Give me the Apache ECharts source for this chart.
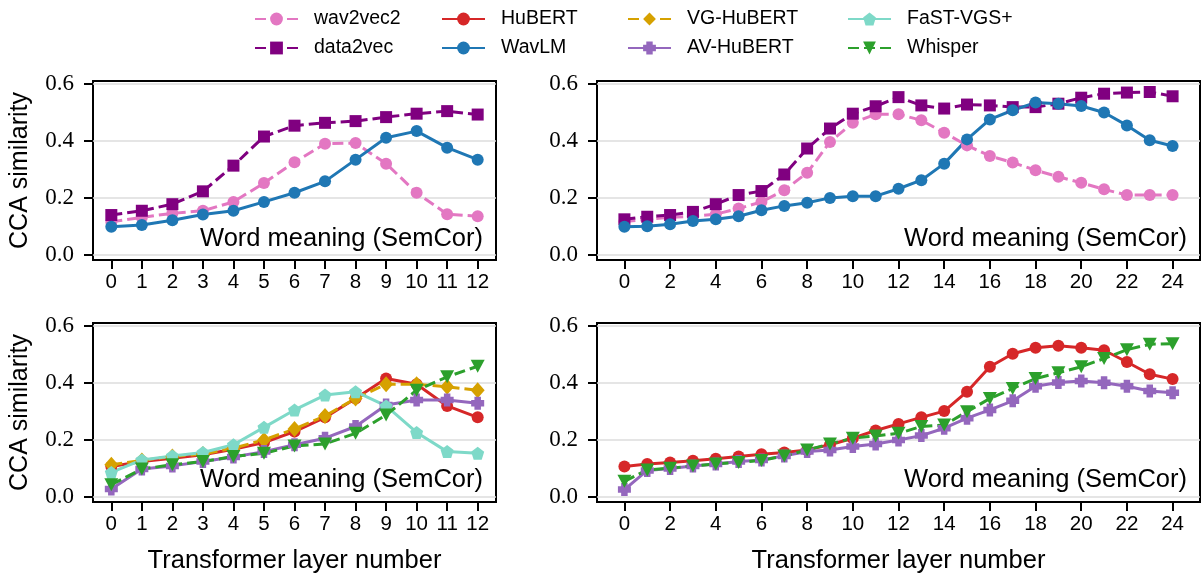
<!DOCTYPE html>
<html>
<head>
<meta charset="utf-8">
<script src="https://cdn.jsdelivr.net/npm/echarts@6/dist/echarts.min.js"></script>
<style>html,body{margin:0;padding:0;background:#fff}#chart{width:1202px;height:579px}</style>
</head>
<body>
<div id="chart"></div>
<script>
// ---------- data ----------
const layers12 = [0,1,2,3,4,5,6,7,8,9,10,11,12];
const layers24 = [0,1,2,3,4,5,6,7,8,9,10,11,12,13,14,15,16,17,18,19,20,21,22,23,24];
const xTicks12 = [0,1,2,3,4,5,6,7,8,9,10,11,12];
const xTicks24 = [0,2,4,6,8,10,12,14,16,18,20,22,24];
const yTicks = [0, 0.2, 0.4, 0.6];
const panelLabel = 'Word meaning (SemCor)';
const xTitle = 'Transformer layer number';
const yTitle = 'CCA similarity';

// top-left (base, 12 layers)
const tl_wav2vec2 = [0.116,0.132,0.146,0.155,0.186,0.252,0.325,0.390,0.392,0.320,0.218,0.143,0.136];
const tl_data2vec = [0.140,0.155,0.178,0.223,0.313,0.415,0.453,0.463,0.469,0.483,0.495,0.504,0.492];
const tl_wavlm    = [0.099,0.105,0.122,0.142,0.155,0.186,0.218,0.258,0.334,0.411,0.434,0.376,0.334];
// top-right (large, 24 layers)
const tr_wav2vec2 = [0.117,0.125,0.132,0.136,0.143,0.163,0.186,0.227,0.288,0.396,0.463,0.493,0.493,0.472,0.428,0.384,0.347,0.324,0.297,0.274,0.253,0.230,0.210,0.210,0.210];
const tr_data2vec = [0.125,0.134,0.140,0.151,0.178,0.210,0.224,0.282,0.373,0.443,0.495,0.521,0.553,0.524,0.513,0.527,0.524,0.518,0.518,0.530,0.551,0.565,0.569,0.571,0.556];
const tr_wavlm    = [0.099,0.101,0.108,0.119,0.125,0.136,0.157,0.172,0.183,0.200,0.206,0.206,0.232,0.262,0.320,0.405,0.475,0.507,0.534,0.530,0.522,0.499,0.454,0.402,0.382];
// bottom-left (base, 12 layers)
const bl_hubert   = [0.107,0.124,0.136,0.148,0.167,0.191,0.229,0.279,0.345,0.415,0.395,0.319,0.279];
const bl_vghubert = [0.113,0.128,0.142,0.151,0.171,0.200,0.238,0.284,0.345,0.395,0.395,0.386,0.374];
const bl_avhubert = [0.028,0.098,0.109,0.124,0.140,0.159,0.183,0.206,0.247,0.322,0.340,0.340,0.328];
const bl_fastvgs  = [0.086,0.130,0.144,0.156,0.183,0.244,0.305,0.357,0.369,0.319,0.226,0.159,0.153];
const bl_whisper  = [0.043,0.098,0.113,0.124,0.142,0.153,0.179,0.186,0.223,0.287,0.374,0.421,0.458];
// bottom-right (large, 24 layers)
const br_hubert   = [0.107,0.116,0.121,0.127,0.134,0.142,0.150,0.156,0.165,0.183,0.206,0.233,0.256,0.279,0.301,0.369,0.456,0.502,0.523,0.530,0.523,0.514,0.473,0.430,0.413];
const br_avhubert = [0.026,0.093,0.100,0.109,0.116,0.124,0.130,0.144,0.159,0.165,0.177,0.186,0.200,0.215,0.241,0.276,0.305,0.337,0.388,0.401,0.406,0.400,0.388,0.371,0.365];
const br_whisper  = [0.055,0.095,0.101,0.109,0.116,0.121,0.128,0.144,0.165,0.186,0.206,0.214,0.223,0.247,0.252,0.299,0.345,0.380,0.415,0.435,0.456,0.485,0.516,0.535,0.537];

// ---------- styles ----------
const SANS = 'Liberation Sans';
const SERIF = 'Liberation Serif';
const DASH = [11, 5];
const styles = {
  'wav2vec2':  {color:'#e377c2', dash:true,  symbol:'circle', size:12},
  'data2vec':  {color:'#800080', dash:true,  symbol:'rect', size:12},
  'HuBERT':    {color:'#d62728', dash:false, symbol:'circle', size:12},
  'WavLM':     {color:'#1f77b4', dash:false, symbol:'circle', size:12},
  'VG-HuBERT': {color:'#d6a100', dash:true,  symbol:'diamond', size:[14,16]},
  'AV-HuBERT': {color:'#9467bd', dash:false, symbol:'path://M1,0H3V1H4V3H3V4H1V3H0V1H1Z', size:13},
  'FaST-VGS+': {color:'#7ed9c8', dash:false, symbol:'path://M0,-1L0.951,-0.309L0.588,0.809L-0.588,0.809L-0.951,-0.309Z', size:13},
  'Whisper':   {color:'#2ca02c', dash:true,  symbol:'path://M0,0L2,0L1,1.75Z', size:[14,13]}
};

const grids = [
  {left:93, top:81, width:403, height:179},
  {left:597, top:81, width:603, height:179},
  {left:93, top:323, width:403, height:179},
  {left:597, top:323, width:603, height:179}
];

function mkX(i, is24, bottom){
  const ticks = is24 ? xTicks24 : xTicks12;
  return {
    type:'value', gridIndex:i,
    min: is24 ? -1.2 : -0.6, max: is24 ? 25.2 : 12.6,
    axisLine:{show:false, onZero:false},
    axisTick:{show:true, inside:false, length:9, customValues:ticks, lineStyle:{color:'#000', width:2}},
    axisLabel:{customValues:ticks, margin:12, color:'#000', fontFamily:SANS, fontSize:20.5},
    splitLine:{show:false},
    name: bottom ? xTitle : '', nameLocation:'middle', nameGap:46,
    nameTextStyle:{fontFamily:SANS, fontSize:25.5, color:'#000'}
  };
}
function mkY(i, left){
  return {
    type:'value', gridIndex:i, min:-0.0175, max:0.6095,
    axisLine:{show:false, onZero:false},
    axisTick:{show:true, inside:false, length:9, customValues:yTicks, lineStyle:{color:'#000', width:2}},
    axisLabel:{customValues:yTicks, margin:19, color:'#000', fontFamily:SERIF, fontSize:23,
      formatter:(v)=>Number(v).toFixed(1)},
    splitLine:{show:true, lineStyle:{color:'#dcdcdc', width:1.5}},
    name: left ? yTitle : '', nameLocation:'middle', nameGap:60, nameRotate:90,
    nameTextStyle:{fontFamily:SANS, fontSize:25, color:'#000'}
  };
}

function mkSeries(name, idx, xs, ys){
  const s = styles[name];
  return {
    type:'line', name:name, xAxisIndex:idx, yAxisIndex:idx,
    data: xs.map((x,k)=>[x, ys[k]]),
    symbol:s.symbol, symbolSize:s.size, showSymbol:true,
    lineStyle:{color:s.color, width:3, type: s.dash ? DASH : 'solid'},
    itemStyle:{color:s.color, borderWidth:0},
    emphasis:{disabled:true}, animation:false, z:3
  };
}

const series = [
  mkSeries('wav2vec2', 0, layers12, tl_wav2vec2),
  mkSeries('data2vec', 0, layers12, tl_data2vec),
  mkSeries('WavLM', 0, layers12, tl_wavlm),
  mkSeries('wav2vec2', 1, layers24, tr_wav2vec2),
  mkSeries('data2vec', 1, layers24, tr_data2vec),
  mkSeries('WavLM', 1, layers24, tr_wavlm),
  mkSeries('HuBERT', 2, layers12, bl_hubert),
  mkSeries('VG-HuBERT', 2, layers12, bl_vghubert),
  mkSeries('AV-HuBERT', 2, layers12, bl_avhubert),
  mkSeries('FaST-VGS+', 2, layers12, bl_fastvgs),
  mkSeries('Whisper', 2, layers12, bl_whisper),
  mkSeries('HuBERT', 3, layers24, br_hubert),
  mkSeries('AV-HuBERT', 3, layers24, br_avhubert),
  mkSeries('Whisper', 3, layers24, br_whisper)
];

function mkLegend(names, left){
  return {
    data:names, orient:'vertical', left:left, top:3, itemGap:7,
    itemWidth:43, itemHeight:16, selectedMode:false,
    textStyle:{fontFamily:SANS, fontSize:19.5, color:'#000', lineHeight:22, padding:[0,0,0,11]}
  };
}

const labelPos = [
  {x:483, y:239}, {x:1187, y:239}, {x:483, y:480}, {x:1187, y:480}
];

const option = {
  animation:false,
  backgroundColor:'#fff',
  grid: grids.map(g=>Object.assign({show:true, borderColor:'#000', borderWidth:2, backgroundColor:'transparent'}, g)),
  xAxis:[mkX(0,false,false), mkX(1,true,false), mkX(2,false,true), mkX(3,true,true)],
  yAxis:[mkY(0,true), mkY(1,false), mkY(2,true), mkY(3,false)],
  legend:[
    mkLegend(['wav2vec2','data2vec'], 249),
    mkLegend(['HuBERT','WavLM'], 436),
    mkLegend(['VG-HuBERT','AV-HuBERT'], 622),
    mkLegend(['FaST-VGS+','Whisper'], 842)
  ],
  graphic: labelPos.map(p=>({
    type:'text', x:p.x, y:p.y, z:10,
    style:{text:panelLabel, fill:'#000', font:'25.5px "'+SANS+'"',
      textAlign:'right', align:'right', textVerticalAlign:'middle', verticalAlign:'middle'}
  })),
  series:series
};

const chart = echarts.init(document.getElementById('chart'), null, {renderer:'canvas'});
chart.setOption(option);
</script>
</body>
</html>
